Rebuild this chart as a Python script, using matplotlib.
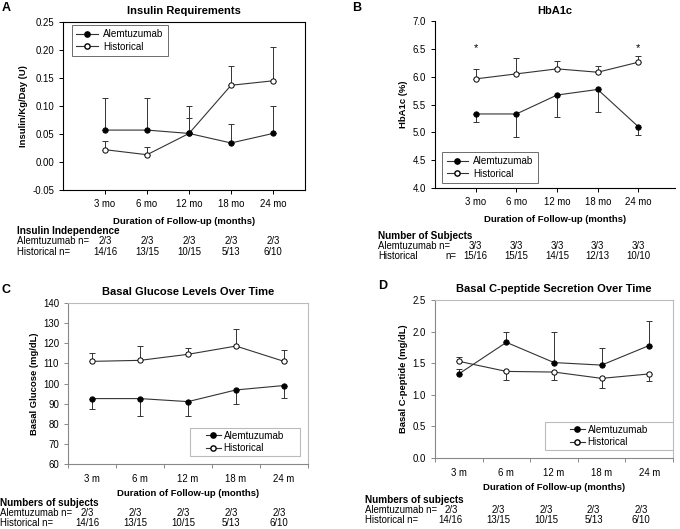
import numpy as np
import matplotlib
matplotlib.use("Agg")
import matplotlib.pyplot as plt
import matplotlib.transforms as mtransforms
from matplotlib.lines import Line2D
from matplotlib.patches import Rectangle

plt.rcParams.update({
    "font.family": ["Liberation Sans", "DejaVu Sans"],
    "font.size": 7,
    "axes.linewidth": 0.8,
    "xtick.labelsize": 6.9,
    "ytick.labelsize": 6.9,
})

# ── Data ──────────────────────────────────────────────────────────────────────
x_pos = [1, 2, 3, 4, 5]
labels_mo = ["3 mo", "6 mo", "12 mo", "18 mo", "24 mo"]
labels_m = ["3 m", "6 m", "12 m", "18 m", "24 m"]

# A: insulin requirements
ins_alem = [0.057, 0.057, 0.051, 0.034, 0.051]
ins_alem_err = [0.057, 0.057, 0.049, 0.033, 0.049]
ins_hist = [0.022, 0.013, 0.051, 0.137, 0.145]
ins_hist_err = [0.015, 0.013, 0.027, 0.034, 0.060]
ins_alem_n = ["2/3", "2/3", "2/3", "2/3", "2/3"]
ins_hist_n = ["14/16", "13/15", "10/15", "5/13", "6/10"]

# B: HbA1c
hba_alem = [5.33, 5.33, 5.67, 5.77, 5.10]
hba_alem_err = [0.14, 0.42, 0.39, 0.40, 0.14]
hba_hist = [5.96, 6.05, 6.14, 6.08, 6.26]
hba_hist_err = [0.17, 0.29, 0.15, 0.12, 0.12]
hba_star = [True, False, False, False, True]
hba_alem_n = ["3/3", "3/3", "3/3", "3/3", "3/3"]
hba_hist_n = ["15/16", "15/15", "14/15", "12/13", "10/10"]

# C: basal glucose
glu_alem = [92.5, 92.5, 91.0, 96.8, 99.0]
glu_alem_err = [5.0, 8.5, 7.2, 7.2, 6.0]
glu_hist = [111.0, 111.5, 114.5, 118.6, 111.0]
glu_hist_err = [4.3, 7.0, 3.0, 8.3, 5.4]
glu_alem_n = ["2/3", "2/3", "2/3", "2/3", "2/3"]
glu_hist_n = ["14/16", "13/15", "10/15", "5/13", "6/10"]

# D: basal C-peptide
cp_alem = [1.33, 1.83, 1.51, 1.47, 1.78]
cp_alem_err = [0.08, 0.17, 0.49, 0.27, 0.39]
cp_hist = [1.53, 1.37, 1.36, 1.26, 1.33]
cp_hist_lo = [0.0, 0.13, 0.13, 0.15, 0.11]
cp_hist_hi = [0.07, 0.0, 0.0, 0.0, 0.0]
cp_alem_n = ["2/3", "2/3", "2/3", "2/3", "2/3"]
cp_hist_n = ["14/16", "13/15", "10/15", "5/13", "6/10"]

W, H = 680, 529
fig = plt.figure(figsize=(W / 100, H / 100), dpi=100)

LINE = "#333333"
GREY = "#bbbbbb"
MS = 3.8
LAB_FS = 6.8
TAB_FS = 6.9


def fy(px):
    return 1 - px / H


def add_axes(x0, y0, x1, y1):
    return fig.add_axes([x0 / W, 1 - y1 / H, (x1 - x0) / W, (y1 - y0) / H])


def draw_series(ax, y, lo, hi, filled, zorder):
    ax.errorbar(x_pos, y, yerr=[lo, hi], fmt="none", ecolor=LINE,
                elinewidth=0.7, capsize=2.5, capthick=0.7, zorder=zorder - 1)
    ax.plot(x_pos, y, color=LINE, lw=0.8, marker="o", ms=MS,
            mfc="black" if filled else "white", mec="black", mew=0.7,
            zorder=zorder)


def legend_handles():
    return [Line2D([], [], color=LINE, lw=0.8, marker="o", ms=MS, mfc="black", mec="black"),
            Line2D([], [], color=LINE, lw=0.8, marker="o", ms=MS, mfc="white", mec="black")]


def legend(ax, **kw):
    leg = ax.legend(legend_handles(), ["Alemtuzumab", "Historical"], fontsize=7.1,
                    fancybox=False, framealpha=1, edgecolor="#555555",
                    handlelength=2.2, handletextpad=0.5,
                    borderpad=0.45, labelspacing=0.25, borderaxespad=0, **kw)
    leg.get_frame().set_linewidth(0.6)
    return leg


def boxed_legend(ax, box):
    # excel-style legend: wide grey frame with the entries centred inside
    ax.add_patch(Rectangle(box[:2], box[2], box[3], transform=ax.transAxes,
                           facecolor="white", edgecolor=GREY, lw=0.8, zorder=6))
    leg = ax.legend(legend_handles(), ["Alemtuzumab", "Historical"], fontsize=7.1,
                    frameon=False, handlelength=1.5, handletextpad=0.3,
                    borderpad=0.2, labelspacing=0.25, borderaxespad=0,
                    loc="center", bbox_to_anchor=box)
    leg.set_zorder(7)
    return leg


def table(ax, head, row1, row2, vals1, vals2, x_text, y_head, dy, n_x=None, shift=0):
    tr = mtransforms.blended_transform_factory(ax.transData, fig.transFigure)
    tr = tr + mtransforms.ScaledTranslation(shift / 100, 0, fig.dpi_scale_trans)
    fig.text(x_text / W, fy(y_head), head, fontsize=7.2, fontweight="bold", va="center")
    fig.text(x_text / W, fy(y_head + dy), row1, fontsize=TAB_FS, va="center")
    fig.text(x_text / W, fy(y_head + 2 * dy), row2, fontsize=TAB_FS, va="center")
    if n_x is not None:
        fig.text(n_x / W, fy(y_head + 2 * dy), "n=", fontsize=TAB_FS, va="center")
    for xi, a, b in zip(x_pos, vals1, vals2):
        ax.text(xi, fy(y_head + dy), a, transform=tr, fontsize=TAB_FS, ha="center", va="center")
        ax.text(xi, fy(y_head + 2 * dy), b, transform=tr, fontsize=TAB_FS, ha="center", va="center")


def labels(ax, ylabel, title, pad_title, pad_x):
    ax.set_ylabel(ylabel, fontsize=LAB_FS, fontweight="bold", labelpad=3)
    ax.set_xlabel("Duration of Follow-up (months)", fontsize=LAB_FS,
                  fontweight="bold", labelpad=pad_x)
    ax.set_title(title, fontsize=8, fontweight="bold", pad=pad_title)


# ── Panel A ───────────────────────────────────────────────────────────────────
axA = add_axes(63, 22, 305, 190)
draw_series(axA, ins_hist, [0] * 5, ins_hist_err, False, 4)
draw_series(axA, ins_alem, [0] * 5, ins_alem_err, True, 5)
axA.set_xlim(0, 5.76)
axA.set_ylim(-0.05, 0.25)
axA.set_yticks(np.arange(-0.05, 0.2501, 0.05))
axA.yaxis.set_major_formatter(matplotlib.ticker.FormatStrFormatter("%.2f"))
axA.set_xticks(x_pos)
axA.set_xticklabels(labels_mo)
axA.tick_params(length=3, width=0.7)
labels(axA, "Insulin/Kg/Day (U)", "Insulin Requirements", 6, 6)
legend(axA, loc="upper left", bbox_to_anchor=(0.037, 0.982))
table(axA, "Insulin Independence", "Alemtuzumab n=", "Historical n=",
      ins_alem_n, ins_hist_n, 17, 231, 10.5)

# ── Panel B ───────────────────────────────────────────────────────────────────
axB = add_axes(435, 21, 675, 188)
draw_series(axB, hba_hist, [0] * 5, hba_hist_err, False, 4)
draw_series(axB, hba_alem, hba_alem_err, [0] * 5, True, 5)
for xi, s in zip(x_pos, hba_star):
    if s:
        axB.text(xi, 6.52, "*", ha="center", va="center", fontsize=8)
axB.set_xlim(0, 5.9)
axB.set_ylim(4.0, 7.0)
axB.set_yticks(np.arange(4.0, 7.01, 0.5))
axB.yaxis.set_major_formatter(matplotlib.ticker.FormatStrFormatter("%.1f"))
axB.set_xticks(x_pos)
axB.set_xticklabels(labels_mo)
axB.spines["top"].set_visible(False)
axB.spines["right"].set_visible(False)
axB.tick_params(length=3, width=0.7)
labels(axB, "HbA1c (%)", "HbA1c", 5, 6)
legend(axB, loc="lower left", bbox_to_anchor=(0.03, 0.03))
table(axB, "Number of Subjects", "Alemtuzumab n=", "Historical",
      hba_alem_n, hba_hist_n, 378, 236, 10, n_x=445)


# ── Panel C ───────────────────────────────────────────────────────────────────
def excel_axes(ax):
    for s in ax.spines.values():
        s.set_color(GREY)
    ax.spines["left"].set_color("#888888")
    ax.spines["bottom"].set_color("#888888")
    ax.set_xlim(0.5, 5.5)
    ax.set_xticks(np.arange(0.5, 5.6, 1.0), minor=True)
    ax.tick_params(axis="x", which="major", length=0, pad=7)
    ax.tick_params(axis="x", which="minor", length=3, width=0.7, color="#888888")
    ax.tick_params(axis="y", length=3, width=0.7, color="#888888")


axC = add_axes(68, 303, 308, 464)
draw_series(axC, glu_hist, [0] * 5, glu_hist_err, False, 4)
draw_series(axC, glu_alem, glu_alem_err, [0] * 5, True, 5)
excel_axes(axC)
axC.set_ylim(60, 140)
axC.set_yticks(np.arange(60, 141, 10))
axC.set_xticks(x_pos)
axC.set_xticklabels(labels_m)
labels(axC, "Basal Glucose (mg/dL)", "Basal Glucose Levels Over Time", 6, 4)
boxed_legend(axC, (0.508, 0.05, 0.458, 0.174))
table(axC, "Numbers of subjects", "Alemtuzumab n=", "Historical n=",
      glu_alem_n, glu_hist_n, 0, 503, 10, shift=-5)

# ── Panel D ───────────────────────────────────────────────────────────────────
axD = add_axes(435, 300, 673, 458)
draw_series(axD, cp_hist, cp_hist_lo, cp_hist_hi, False, 4)
draw_series(axD, cp_alem, [0] * 5, cp_alem_err, True, 5)
excel_axes(axD)
axD.set_ylim(0, 2.5)
axD.set_yticks(np.arange(0, 2.51, 0.5))
axD.yaxis.set_major_formatter(matplotlib.ticker.FormatStrFormatter("%.1f"))
axD.set_xticks(x_pos)
axD.set_xticklabels(labels_m)
labels(axD, "Basal C-peptide (mg/dL)", "Basal C-peptide Secretion Over Time", 6, 4)
boxed_legend(axD, (0.462, 0.05, 0.538, 0.177))
table(axD, "Numbers of subjects", "Alemtuzumab n=", "Historical n=",
      cp_alem_n, cp_hist_n, 365, 500, 10, shift=-8)

# panel letters
for lab, px, py in [("A", 2, 8), ("B", 352, 8), ("C", 2, 290), ("D", 378, 286)]:
    fig.text(px / W, fy(py), lab, fontsize=9, fontweight="bold", va="center")

fig.savefig("out.png", dpi=100)
